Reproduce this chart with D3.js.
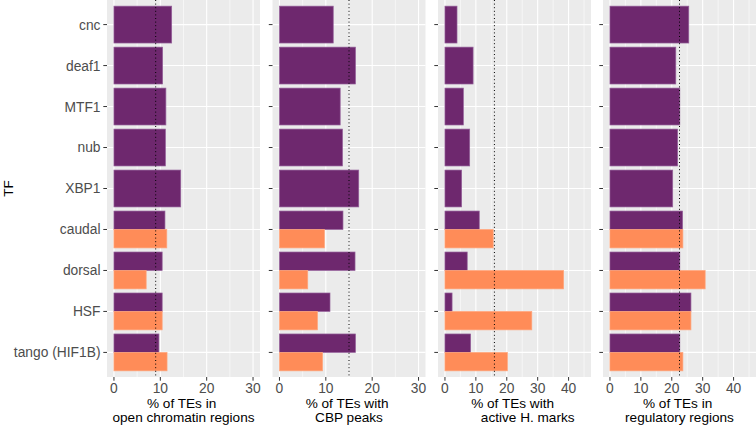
<!DOCTYPE html>
<html><head><meta charset="utf-8">
<script src="https://cdn.jsdelivr.net/npm/d3@7"></script>
<style>
body{margin:0;background:#fff;}
svg text{font-family:"Liberation Sans",Arial,sans-serif;}
</style></head>
<body><svg id="c" width="756" height="426"></svg>
<script>
const tfs = ["cnc","deaf1","MTF1","nub","XBP1","caudal","dorsal","HSF","tango (HIF1B)"];
const openPurple  = [12.45,10.5,11.2,11.1,14.4,11.0,10.4,10.4,9.7];
const openOrange  = [null,null,null,null,null,11.4,6.95,10.4,11.45];
const cbpPurple   = [11.6,16.4,13.1,13.6,17.1,13.7,16.3,10.9,16.4];
const cbpOrange   = [null,null,null,null,null,9.7,6.1,8.2,9.3];
const hmPurple    = [3.9,9.1,5.95,8.0,5.4,11.1,7.2,2.3,8.3];
const hmOrange    = [null,null,null,null,null,15.6,38.4,28.1,20.2];
const regPurple   = [25.5,21.3,22.6,21.9,20.3,23.5,22.6,26.2,22.6];
const regOrange   = [null,null,null,null,null,23.6,30.8,26.2,23.6];
const refLines    = [9.0,15.0,16.0,22.5];
const xMaxes      = [30,30,45,45];
const ticks1      = [0,10,20,30];
const ticks2      = [0,10,20,30,40];
const titles = [["% of TEs in ","open chromatin regions"],["% of TEs with ","CBP peaks"],["% of TEs with ","       active H. marks"],["% of TEs in ","regulatory regions"]];

const panels = [
  {p:openPurple,o:openOrange,ref:refLines[0],max:xMaxes[0],ticks:ticks1,title:titles[0],left:107},
  {p:cbpPurple,o:cbpOrange,ref:refLines[1],max:xMaxes[1],ticks:ticks1,title:titles[1],left:272.5},
  {p:hmPurple,o:hmOrange,ref:refLines[2],max:xMaxes[2],ticks:ticks2,title:titles[2],left:438},
  {p:regPurple,o:regOrange,ref:refLines[3],max:xMaxes[3],ticks:ticks2,title:titles[3],left:603}
];
const PW = 153, PTOP = 0, PBOT = 377;
const PURPLE = "#6E286E", PURPLE_S="#94609A", ORANGE = "#FF8C58", ORANGE_S="#FFA57C";

const svg = d3.select("#c");
const y = d3.scalePoint().domain(tfs).range([PTOP,PBOT]).padding(0.6);
const step = y.step(), bh = step*0.9;

panels.forEach((P,pi)=>{
  const x = d3.scaleLinear().domain([-0.05*P.max,1.05*P.max]).range([P.left,P.left+PW]);
  const g = svg.append("g");
  g.append("rect").attr("x",P.left).attr("y",PTOP).attr("width",PW).attr("height",PBOT-PTOP).attr("fill","#EBEBEB");
  const minors = d3.range(5,P.max*1.05,10);
  g.selectAll(".mx").data(minors).enter().append("line")
    .attr("x1",d=>x(d)).attr("x2",d=>x(d)).attr("y1",PTOP).attr("y2",PBOT)
    .attr("stroke","#fff").attr("stroke-width",0.55);
  g.selectAll(".gx").data(P.ticks).enter().append("line")
    .attr("x1",d=>x(d)).attr("x2",d=>x(d)).attr("y1",PTOP).attr("y2",PBOT)
    .attr("stroke","#fff").attr("stroke-width",1.1);
  g.selectAll(".gy").data(tfs).enter().append("line")
    .attr("x1",P.left).attr("x2",P.left+PW).attr("y1",d=>y(d)).attr("y2",d=>y(d))
    .attr("stroke","#fff").attr("stroke-width",1.1);
  tfs.forEach((tf,i)=>{
    const c = y(tf);
    const hasO = P.o[i]!=null;
    if(hasO){
      g.append("rect").attr("x",x(0)).attr("y",c-bh/2).attr("width",x(P.p[i])-x(0)).attr("height",bh/2)
        .attr("fill",PURPLE).attr("stroke",PURPLE_S).attr("stroke-width",0.7);
      g.append("rect").attr("x",x(0)).attr("y",c).attr("width",x(P.o[i])-x(0)).attr("height",bh/2)
        .attr("fill",ORANGE).attr("stroke",ORANGE_S).attr("stroke-width",0.7);
    } else {
      g.append("rect").attr("x",x(0)).attr("y",c-bh/2).attr("width",x(P.p[i])-x(0)).attr("height",bh)
        .attr("fill",PURPLE).attr("stroke",PURPLE_S).attr("stroke-width",0.7);
    }
  });
  g.append("line").attr("x1",x(P.ref)).attr("x2",x(P.ref)).attr("y1",PTOP).attr("y2",PBOT)
    .attr("stroke","#000").attr("stroke-width",1).attr("stroke-dasharray","1,2.6");
  g.selectAll(".ty").data(tfs).enter().append("line")
    .attr("x1",P.left-3.7).attr("x2",P.left).attr("y1",d=>y(d)).attr("y2",d=>y(d))
    .attr("stroke","#333").attr("stroke-width",1);
  if(pi===0){
    g.selectAll(".ly").data(tfs).enter().append("text")
      .attr("x",P.left-6.5).attr("y",d=>y(d)).attr("dy","0.36em").attr("text-anchor","end")
      .attr("font-size",13.8).attr("fill","#4D4D4D").text(d=>d);
  }
  g.selectAll(".tx").data(P.ticks).enter().append("line")
    .attr("x1",d=>x(d)).attr("x2",d=>x(d)).attr("y1",PBOT).attr("y2",PBOT+3.7)
    .attr("stroke","#333").attr("stroke-width",1);
  g.selectAll(".lx").data(P.ticks).enter().append("text")
    .attr("x",d=>x(d)).attr("y",393.3).attr("text-anchor","middle")
    .attr("font-size",13.8).attr("fill","#4D4D4D").text(d=>d);
  const cx = P.left+PW/2;
  g.append("text").attr("xml:space","preserve").attr("x",cx).attr("y",408.3).attr("text-anchor","middle").attr("font-size",13.6).attr("fill","#000").text(P.title[0]);
  g.append("text").attr("xml:space","preserve").attr("x",cx).attr("y",421.8).attr("text-anchor","middle").attr("font-size",13.6).attr("fill","#000").text(P.title[1]);
});
svg.append("text").attr("transform","translate(13,"+((PTOP+PBOT)/2)+") rotate(-90)")
  .attr("text-anchor","middle").attr("font-size",13.6).attr("fill","#000").text("TF");
</script></body></html>
